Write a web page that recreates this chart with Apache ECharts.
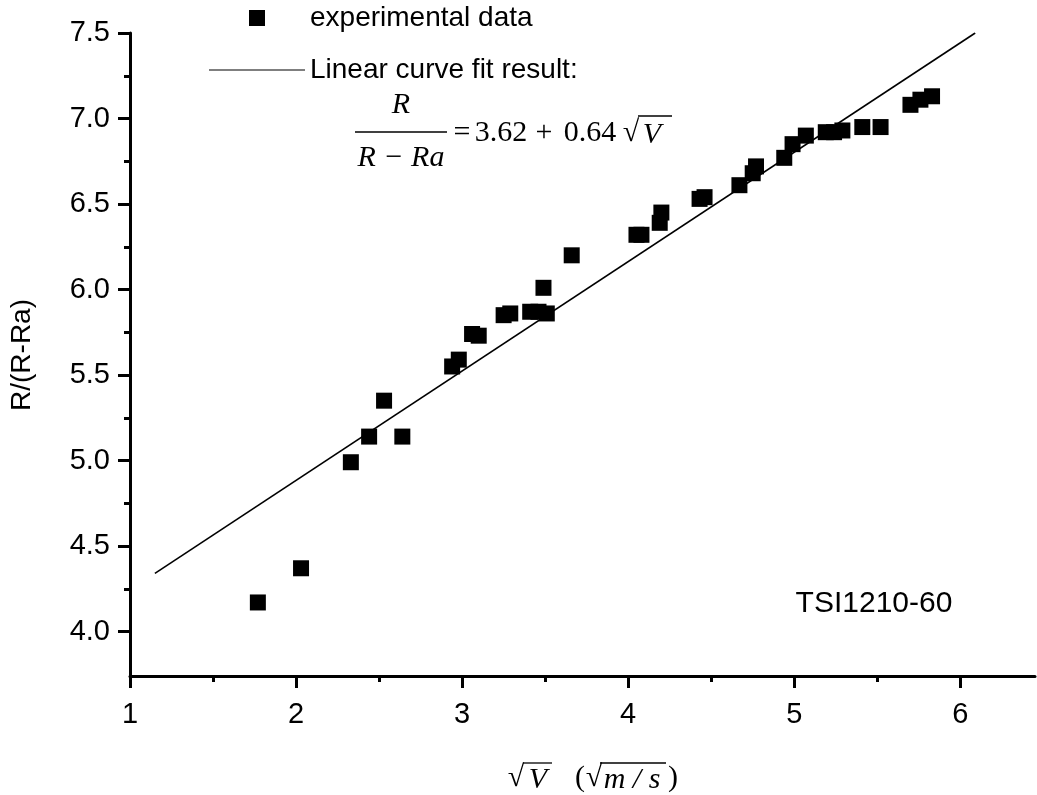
<!DOCTYPE html>
<html><head><meta charset="utf-8">
<script src="https://cdn.jsdelivr.net/npm/echarts@6/dist/echarts.min.js"></script>
<style>html,body{margin:0;padding:0;background:#fff}#c{width:1037px;height:795px}</style>
</head><body><div id="c"></div>
<script>
// ---- data ----
const sqrtV = [1.77, 2.03, 2.33, 2.44, 2.53, 2.64, 2.94, 2.98, 3.06, 3.10, 3.25, 3.29, 3.41, 3.46, 3.51, 3.49, 3.66,
               4.05, 4.08, 4.19, 4.20, 4.43, 4.46, 4.67, 4.77, 4.75, 4.94, 4.99, 5.07, 5.19, 5.24, 5.29, 5.41, 5.52, 5.70, 5.76, 5.83];
const ratio = [4.17, 4.37, 4.99, 5.14, 5.35, 5.14, 5.55, 5.59, 5.74, 5.73, 5.85, 5.86, 5.87, 5.87, 5.86, 6.01, 6.20,
               6.32, 6.32, 6.39, 6.45, 6.53, 6.54, 6.61, 6.72, 6.68, 6.77, 6.85, 6.90, 6.92, 6.92, 6.93, 6.95, 6.95, 7.08, 7.11, 7.13];
const fitX = [1.15, 6.09];
const fitY = [4.34, 7.50];
const xMajorTicks = [1, 2, 3, 4, 5, 6];
const xMinorTicks = [1.5, 2.5, 3.5, 4.5, 5.5];
const yMajorTicks = [4.0, 4.5, 5.0, 5.5, 6.0, 6.5, 7.0, 7.5];
const yMinorTicks = [4.25, 4.75, 5.25, 5.75, 6.25, 6.75, 7.25];
const seriesNames = ['experimental data', 'Linear curve fit result:'];

const SANS = '"Liberation Sans", Arial, sans-serif';
const SERIF = '"Liberation Serif", "Times New Roman", serif';
const SQUARE = 'path://M0 0H10V10H0Z';
const THINLINE = 'path://M0 0H96V1.2H0Z';

const chart = echarts.init(document.getElementById('c'), null, {renderer: 'canvas'});

function txt(x, y, text, font, align) {
  return {type: 'text', x: x, y: y, z: 10,
    style: {text: text, font: font, fill: '#000', align: align || 'center', verticalAlign: 'middle'}};
}
function hline(x1, x2, y, w) {
  return {type: 'line', z: 10, shape: {x1: x1, y1: y, x2: x2, y2: y}, style: {stroke: '#000', lineWidth: w || 1.2}};
}

const fS = '30px ' + SERIF, fI = 'italic 30px ' + SERIF;

const option = {
  backgroundColor: '#fff',
  animation: false,
  grid: {left: 130, right: 2, top: 33, bottom: 119, containLabel: false},
  legend: {
    orient: 'vertical', left: 209, top: 4, padding: 0, itemWidth: 96, itemHeight: 16, itemGap: 24,
    textStyle: {fontSize: 28, fontFamily: SANS, color: '#000'},
    data: [{name: seriesNames[0], icon: SQUARE, itemStyle: {color: '#000', opacity: 1}},
           {name: seriesNames[1], icon: THINLINE, itemStyle: {color: '#000', opacity: 1}}]
  },
  xAxis: [
    {type: 'value', min: 1, max: 6.45, position: 'bottom',
     axisLine: {show: true, onZero: false, lineStyle: {color: '#000', width: 3}},
     axisTick: {show: true, inside: false, length: 12, lineStyle: {color: '#000', width: 3}, customValues: xMajorTicks},
     axisLabel: {show: true, margin: 24, fontSize: 29, fontFamily: SANS, color: '#000', customValues: xMajorTicks},
     splitLine: {show: false}},
    {type: 'value', min: 1, max: 6.45, position: 'bottom', offset: 0,
     axisLine: {show: false, onZero: false},
     axisTick: {show: true, inside: false, length: 6, lineStyle: {color: '#000', width: 3}, customValues: xMinorTicks},
     axisLabel: {show: false},
     splitLine: {show: false}}
  ],
  yAxis: [
    {type: 'value', min: 3.74, max: 7.5, position: 'left',
     axisLine: {show: true, onZero: false, lineStyle: {color: '#000', width: 3}},
     axisTick: {show: true, inside: false, length: 12, lineStyle: {color: '#000', width: 3}, customValues: yMajorTicks},
     axisLabel: {show: true, margin: 20, fontSize: 29, fontFamily: SANS, color: '#000', customValues: yMajorTicks,
                 formatter: function (v) { return Number(v).toFixed(1); }},
     splitLine: {show: false}},
    {type: 'value', min: 3.74, max: 7.5, position: 'left', offset: 0,
     axisLine: {show: false, onZero: false},
     axisTick: {show: true, inside: false, length: 6, lineStyle: {color: '#000', width: 3}, customValues: yMinorTicks},
     axisLabel: {show: false},
     splitLine: {show: false}}
  ],
  series: [
    {name: seriesNames[0], type: 'scatter', xAxisIndex: 0, yAxisIndex: 0, z: 3,
     symbol: SQUARE, symbolSize: 16, itemStyle: {color: '#000', opacity: 1},
     emphasis: {disabled: true},
     data: sqrtV.map(function (x, i) { return [x, ratio[i]]; })},
    {name: seriesNames[1], type: 'line', xAxisIndex: 0, yAxisIndex: 0, z: 2,
     symbol: 'none', lineStyle: {color: '#000', width: 1.6}, itemStyle: {color: '#000'},
     emphasis: {disabled: true},
     data: fitX.map(function (x, i) { return [x, fitY[i]]; })}
  ],
  graphic: [
    // y axis title
    {type: 'text', x: 22, y: 355, rotation: Math.PI / 2, z: 10,
     style: {text: 'R/(R-Ra)', font: '28px ' + SANS, fill: '#000', align: 'center', verticalAlign: 'middle'}},
    // annotation
    txt(874, 604, 'TSI1210-60', '30px ' + SANS),
    // fit formula
    txt(401, 105, 'R', fI),
    hline(355, 447, 132, 1.3),
    txt(401, 158, 'R \u2212 Ra', fI),
    txt(462, 133, '=', fS),
    txt(501, 133, '3.62', fS),
    txt(544, 133, '+', fS),
    txt(590, 133, '0.64', fS),
    txt(631, 133, '\u221A', fS),
    txt(652, 135, 'V', fI),
    hline(638, 672, 116, 1.3),
    // x axis title
    txt(516, 778, '\u221A', fS),
    txt(538, 780, 'V', fI),
    hline(523, 552, 763, 1.3),
    txt(580, 778, '(', fS),
    txt(594, 778, '\u221A', fS),
    txt(632, 780, 'm / s', fI),
    hline(600, 666, 763, 1.3),
    txt(673, 778, ')', fS)
  ]
};
chart.setOption(option);
</script></body></html>
